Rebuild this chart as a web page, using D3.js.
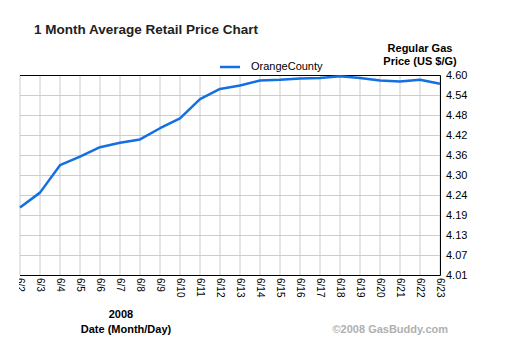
<!DOCTYPE html>
<html>
<head>
<meta charset="utf-8">
<script src="https://cdn.jsdelivr.net/npm/d3@7"></script>
<style>
  body { margin: 0; background: #fff; }
  text { font-family: "Liberation Sans", Arial, sans-serif; }
</style>
</head>
<body>
<div id="chart"></div>
<script>
// Daily average regular gas price, Orange County, June 2008
const dates = ["6/2", "6/3", "6/4", "6/5", "6/6", "6/7", "6/8", "6/9", "6/10", "6/11", "6/12",
  "6/13", "6/14", "6/15", "6/16", "6/17", "6/18", "6/19", "6/20", "6/21", "6/22", "6/23"];
const prices = [4.207, 4.251, 4.332, 4.357, 4.385, 4.398, 4.408, 4.441, 4.470, 4.527, 4.557,
  4.567, 4.582, 4.584, 4.588, 4.589, 4.594, 4.589, 4.582, 4.579, 4.584, 4.572];
const yTicks = [4.008, 4.067, 4.126, 4.186, 4.244, 4.303, 4.362, 4.421, 4.480, 4.539, 4.598];

const width = 518;
const height = 346;
const margin = { top: 75, right: 78, bottom: 71, left: 20 };

const svg = d3.select("#chart")
  .append("svg")
  .attr("width", width)
  .attr("height", height);

const xScale = d3.scalePoint()
  .domain(dates)
  .range([margin.left, width - margin.right]);

const yScale = d3.scaleLinear()
  .domain([yTicks[0], yTicks[yTicks.length - 1]])
  .range([height - margin.bottom, margin.top]);

const x0 = margin.left, x1 = width - margin.right;
const y0 = height - margin.bottom, y1 = margin.top;

// grid
svg.append("g")
  .selectAll("line")
  .data(dates)
  .enter()
  .append("line")
  .attr("x1", d => xScale(d)).attr("x2", d => xScale(d))
  .attr("y1", y1).attr("y2", y0)
  .attr("stroke", "#cccccc")
  .attr("stroke-width", 1);

svg.append("g")
  .selectAll("line")
  .data(yTicks)
  .enter()
  .append("line")
  .attr("x1", x0).attr("x2", x1)
  .attr("y1", d => Math.round(yScale(d)) + 0.5).attr("y2", d => Math.round(yScale(d)) + 0.5)
  .attr("stroke", "#cccccc")
  .attr("stroke-width", 1);

// frame: top, right, bottom in black
svg.append("path")
  .attr("d", `M${x0},${y1 + 0.5}H${x1 + 0.5}V${y0 + 0.5}H${x0}`)
  .attr("fill", "none")
  .attr("stroke", "#000")
  .attr("stroke-width", 1);

// price line
const line = d3.line()
  .x((d, i) => xScale(dates[i]))
  .y(d => yScale(d));

svg.append("path")
  .datum(prices)
  .attr("d", line)
  .attr("fill", "none")
  .attr("stroke", "#1470e0")
  .attr("stroke-width", 2.5)
  .attr("stroke-linejoin", "round");

// right axis labels
const yAxis = d3.axisRight(yScale)
  .tickValues(yTicks)
  .tickFormat(d3.format(".2f"))
  .tickSize(0)
  .tickPadding(6);

svg.append("g")
  .attr("transform", `translate(${x1},0)`)
  .call(yAxis)
  .call(g => g.select(".domain").remove())
  .call(g => g.selectAll("text")
    .attr("font-size", 11)
    .attr("font-family", "'Liberation Sans', Arial, sans-serif")
    .attr("fill", "#000"));

// bottom date labels, rotated, clipped on the left edge
svg.append("clipPath")
  .attr("id", "xclip")
  .append("rect")
  .attr("x", x0 - 1).attr("y", y0)
  .attr("width", width).attr("height", 40);

svg.append("g")
  .attr("clip-path", "url(#xclip)")
  .selectAll("text")
  .data(dates)
  .enter()
  .append("text")
  .attr("transform", d => `translate(${xScale(d)},${y0 + 3}) rotate(90)`)
  .attr("dy", "0.35em")
  .attr("font-size", 10)
  .attr("fill", "#000")
  .text(d => d);

// titles
svg.append("text")
  .attr("x", 34).attr("y", 34)
  .attr("font-size", 13.5).attr("font-weight", "bold")
  .attr("fill", "#222")
  .text("1 Month Average Retail Price Chart");

svg.append("text")
  .attr("x", 420).attr("y", 52)
  .attr("text-anchor", "middle")
  .attr("font-size", 11).attr("font-weight", "bold")
  .text("Regular Gas");

svg.append("text")
  .attr("x", 420).attr("y", 65)
  .attr("text-anchor", "middle")
  .attr("font-size", 11).attr("font-weight", "bold")
  .text("Price (US $/G)");

// legend
svg.append("line")
  .attr("x1", 220).attr("x2", 240)
  .attr("y1", 67).attr("y2", 67)
  .attr("stroke", "#1470e0")
  .attr("stroke-width", 2.5);

svg.append("text")
  .attr("x", 251).attr("y", 70)
  .attr("font-size", 11)
  .text("OrangeCounty");

// x axis titles
svg.append("text")
  .attr("x", 121).attr("y", 318)
  .attr("text-anchor", "middle")
  .attr("font-size", 11).attr("font-weight", "bold")
  .text("2008");

svg.append("text")
  .attr("x", 126).attr("y", 333)
  .attr("text-anchor", "middle")
  .attr("font-size", 11).attr("font-weight", "bold")
  .text("Date (Month/Day)");

svg.append("text")
  .attr("x", 448).attr("y", 333)
  .attr("text-anchor", "end")
  .attr("font-size", 11).attr("font-weight", "bold")
  .attr("fill", "#b0b0b0")
  .text("©2008 GasBuddy.com");
</script>
</body>
</html>
